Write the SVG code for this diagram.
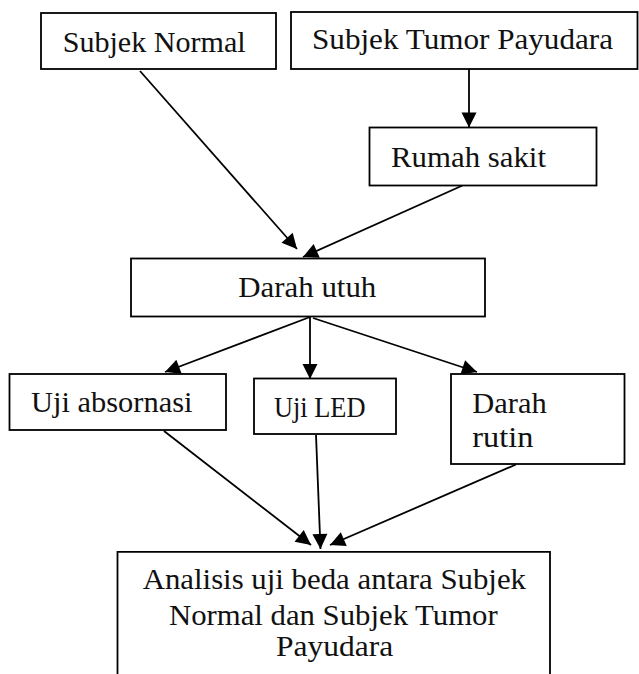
<svg xmlns="http://www.w3.org/2000/svg" width="639" height="674" viewBox="0 0 639 674">
<style>
.box{fill:#fff;stroke:#000;stroke-width:1.8}
.t{font-family:"Liberation Serif","Times New Roman",serif;font-size:30px;fill:#111}
.ln{stroke:#000;stroke-width:1.8;fill:none;marker-end:url(#ah)}
</style>
<defs>
<marker id="ah" markerUnits="userSpaceOnUse" markerWidth="17" markerHeight="17" viewBox="0 0 17 17" refX="16" refY="8.5" orient="auto">
<path d="M1,1 L16,8.5 L1,16 Z" fill="#000"/>
</marker>
</defs>
<rect width="639" height="674" fill="#fff"/>
<g id="connectors">
<line class="ln" x1="140" y1="71" x2="297" y2="249"/>
<line class="ln" x1="469" y1="69" x2="469" y2="127.5"/>
<line class="ln" x1="462.5" y1="185.5" x2="303" y2="257"/>
<line class="ln" x1="310" y1="317" x2="165" y2="372"/>
<line class="ln" x1="310" y1="317" x2="310" y2="379"/>
<line class="ln" x1="313" y1="318" x2="477" y2="372"/>
<line class="ln" x1="164" y1="431" x2="311" y2="545"/>
<line class="ln" x1="316" y1="435" x2="320.5" y2="549"/>
<line class="ln" x1="516" y1="464.5" x2="330" y2="545"/>
</g>
<g id="subjek-normal">
<rect class="box" x="41" y="13" width="235" height="56"/>
<text class="t" x="62.7" y="52" textLength="183" lengthAdjust="spacingAndGlyphs">Subjek Normal</text>
</g>
<g id="subjek-tumor">
<rect class="box" x="291" y="12" width="346.5" height="57"/>
<text class="t" x="312" y="49.3" textLength="301" lengthAdjust="spacingAndGlyphs">Subjek Tumor Payudara</text>
</g>
<g id="rumah-sakit">
<rect class="box" x="369.5" y="127.5" width="227" height="58"/>
<text class="t" x="391" y="166.7" textLength="155" lengthAdjust="spacingAndGlyphs">Rumah sakit</text>
</g>
<g id="darah-utuh">
<rect class="box" x="131" y="258.5" width="354" height="58"/>
<text class="t" x="238.3" y="296.7" textLength="138" lengthAdjust="spacingAndGlyphs">Darah utuh</text>
</g>
<g id="uji-absornasi">
<rect class="box" x="9.5" y="374" width="216.5" height="56"/>
<text class="t" x="31" y="412.3" textLength="161.5" lengthAdjust="spacingAndGlyphs">Uji absornasi</text>
</g>
<g id="uji-led">
<rect class="box" x="254" y="378.5" width="142" height="55.5"/>
<text class="t" x="274" y="417.3" textLength="91.5" lengthAdjust="spacingAndGlyphs">Uji LED</text>
</g>
<g id="darah-rutin">
<rect class="box" x="451" y="374" width="173.5" height="90"/>
<text class="t" x="472.3" y="412.7" textLength="74.4" lengthAdjust="spacingAndGlyphs">Darah</text>
<text class="t" x="472.3" y="447.3" textLength="61" lengthAdjust="spacingAndGlyphs">rutin</text>
</g>
<g id="analisis">
<path d="M117.5,680 V551.8 H550 V680" fill="#fff" stroke="#000" stroke-width="1.8"/>
<text class="t" x="142.7" y="589.3" textLength="383.3" lengthAdjust="spacingAndGlyphs">Analisis uji beda antara Subjek</text>
<text class="t" x="169" y="625" textLength="328.7" lengthAdjust="spacingAndGlyphs">Normal dan Subjek Tumor</text>
<text class="t" x="276" y="655.7" textLength="117.3" lengthAdjust="spacingAndGlyphs">Payudara</text>
</g>
</svg>
